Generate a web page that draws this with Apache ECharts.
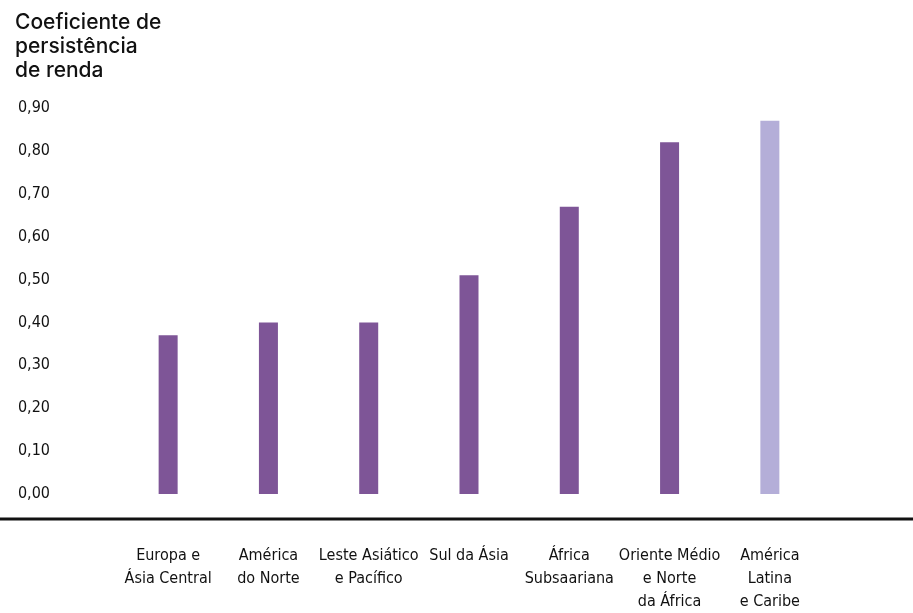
<!DOCTYPE html>
<html>
<head>
<meta charset="utf-8">
<script src="https://cdn.jsdelivr.net/npm/echarts@6/dist/echarts.min.js"></script>
<style>
html,body{margin:0;padding:0;background:#fff;}
#chart{width:913px;height:613px;}
</style>
</head>
<body>
<div id="chart"></div>
<script>
const categories = [
  "Europa e\nÁsia Central",
  "América\ndo Norte",
  "Leste Asiático\ne Pacífico",
  "Sul da Ásia",
  "África\nSubsaariana",
  "Oriente Médio\ne Norte\nda África",
  "América\nLatina\ne Caribe"
];
const values = [0.37, 0.40, 0.40, 0.51, 0.67, 0.82, 0.87];
const highlightIndex = 6;
const titleText = "Coeficiente de\npersistência\nde renda";

const chart = echarts.init(document.getElementById('chart'));
const condensed = '"DejaVu Sans Condensed", "DejaVu Sans", sans-serif';

chart.setOption({
  animation: false,
  backgroundColor: '#ffffff',
  title: {
    text: titleText,
    left: 15,
    top: 11,
    padding: 0,
    textStyle: {
      fontFamily: 'Inter, "Noto Sans", sans-serif',
      fontSize: 21,
      fontWeight: 500,
      lineHeight: 24,
      color: '#111111'
    }
  },
  grid: { left: 118, right: 93, top: 108, bottom: 119 },
  xAxis: {
    type: 'category',
    data: categories,
    axisLine: { show: false },
    axisTick: { show: false },
    axisLabel: {
      margin: 50,
      interval: 0,
      fontFamily: condensed,
      fontWeight: 'condensed',
      fontSize: 16,
      lineHeight: 23,
      color: '#111111',
      align: 'center'
    }
  },
  yAxis: {
    type: 'value',
    min: 0,
    max: 0.9,
    interval: 0.1,
    axisLine: { show: false },
    axisTick: { show: false },
    splitLine: { show: false },
    axisLabel: {
      margin: 68,
      align: 'right',
      fontFamily: condensed,
      fontWeight: 'condensed',
      fontSize: 16,
      color: '#111111',
      formatter: v => v.toFixed(2).replace('.', ',')
    }
  },
  series: [{
    type: 'bar',
    barWidth: 19,
    data: values.map((v, i) => ({
      value: v,
      itemStyle: { color: i === highlightIndex ? '#b4aed8' : '#7e5597' }
    }))
  }],
  graphic: [{
    type: 'line',
    shape: { x1: 0, y1: 519, x2: 913, y2: 519 },
    style: { stroke: '#111111', lineWidth: 3 }
  }]
});
</script>
</body>
</html>
